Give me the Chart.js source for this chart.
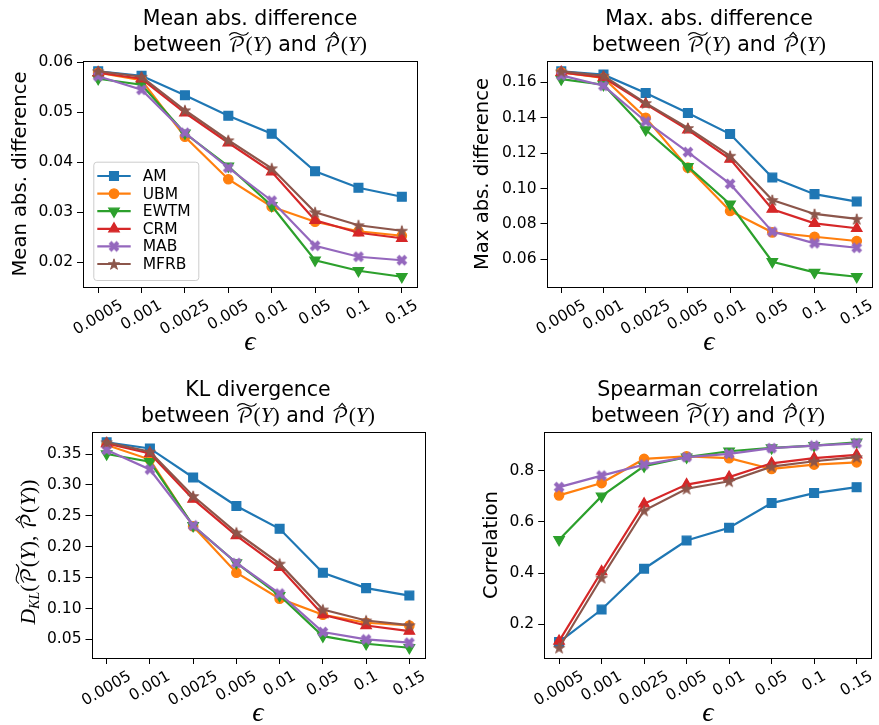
<!DOCTYPE html>
<html>
<head>
<meta charset="utf-8">
<script src="https://cdn.jsdelivr.net/npm/chart.js"></script>
<style>
  html, body { margin: 0; padding: 0; background: #fff; }
  #wrap { position: relative; width: 879px; height: 725px; overflow: hidden; }
  canvas { position: absolute; }
</style>
</head>
<body>
<div id="wrap">
  <canvas id="c0" width="440" height="362" style="left:0;top:0"></canvas>
  <canvas id="c1" width="439" height="362" style="left:440px;top:0"></canvas>
  <canvas id="c2" width="440" height="363" style="left:0;top:362px"></canvas>
  <canvas id="c3" width="439" height="363" style="left:440px;top:362px"></canvas>
</div>
<script>
/* ---------- data ---------- */
const epsLabels = ['0.0005', '0.001', '0.0025', '0.005', '0.01', '0.05', '0.1', '0.15'];
const methods = ['AM', 'UBM', 'EWTM', 'CRM', 'MAB', 'MFRB'];

// Mean abs. difference
const meanAM   = [0.0582, 0.0573, 0.0534, 0.0493, 0.0457, 0.0382, 0.0349, 0.0331];
const meanUBM  = [0.0579, 0.0564, 0.0451, 0.0366, 0.0311, 0.0281, 0.0262, 0.0253];
const meanEWTM = [0.0567, 0.0555, 0.0458, 0.0392, 0.0313, 0.0204, 0.0183, 0.0171];
const meanCRM  = [0.0579, 0.0567, 0.0499, 0.0439, 0.0381, 0.0284, 0.0259, 0.0248];
const meanMAB  = [0.0572, 0.0545, 0.0459, 0.0389, 0.0323, 0.0233, 0.0211, 0.0204];
const meanMFRB = [0.0582, 0.0571, 0.0504, 0.0444, 0.0388, 0.0300, 0.0274, 0.0263];

// Max abs. difference
const maxAM   = [0.1663, 0.1644, 0.1540, 0.1427, 0.1308, 0.1062, 0.0968, 0.0926];
const maxUBM  = [0.1657, 0.1625, 0.1400, 0.1118, 0.0873, 0.0752, 0.0727, 0.0703];
const maxEWTM = [0.1619, 0.1587, 0.1332, 0.1124, 0.0911, 0.0586, 0.0526, 0.0501];
const maxCRM  = [0.1657, 0.1628, 0.1478, 0.1332, 0.1166, 0.0883, 0.0803, 0.0775];
const maxMAB  = [0.1640, 0.1581, 0.1379, 0.1206, 0.1026, 0.0756, 0.0690, 0.0665];
const maxMFRB = [0.1662, 0.1638, 0.1483, 0.1342, 0.1185, 0.0935, 0.0856, 0.0828];

// KL divergence
const klAM   = [0.369, 0.359, 0.312, 0.266, 0.229, 0.158, 0.133, 0.121];
const klUBM  = [0.3645, 0.341, 0.233, 0.158, 0.116, 0.090, 0.077, 0.0726];
const klEWTM = [0.350, 0.3376, 0.234, 0.174, 0.121, 0.0553, 0.043, 0.0366];
const klCRM  = [0.367, 0.351, 0.277, 0.218, 0.1666, 0.090, 0.0726, 0.0634];
const klMAB  = [0.3565, 0.325, 0.2344, 0.1737, 0.1242, 0.062, 0.050, 0.0447];
const klMFRB = [0.369, 0.3537, 0.282, 0.223, 0.1726, 0.0984, 0.0806, 0.0731];

// Spearman correlation
const spAM   = [0.131, 0.258, 0.417, 0.527, 0.577, 0.673, 0.712, 0.735];
const spUBM  = [0.703, 0.751, 0.845, 0.855, 0.848, 0.806, 0.823, 0.832];
const spEWTM = [0.530, 0.700, 0.817, 0.852, 0.875, 0.888, 0.897, 0.910];
const spCRM  = [0.135, 0.406, 0.670, 0.745, 0.774, 0.828, 0.848, 0.861];
const spMAB  = [0.735, 0.780, 0.823, 0.852, 0.865, 0.887, 0.897, 0.906];
const spMFRB = [0.109, 0.382, 0.644, 0.729, 0.758, 0.815, 0.836, 0.852];

// y tick values
const meanTicks = [0.02, 0.03, 0.04, 0.05, 0.06];
const maxTicks  = [0.06, 0.08, 0.10, 0.12, 0.14, 0.16];
const klTicks   = [0.05, 0.10, 0.15, 0.20, 0.25, 0.30, 0.35];
const spTicks   = [0.2, 0.4, 0.6, 0.8];

/* ---------- styles ---------- */
const SANS = '"DejaVu Sans", sans-serif';
const fSans = s => `${s}px ${SANS}`;
const fCal = s => `${s}px "DejaVu Math TeX Gyre", "DejaVu Serif", serif`;
const fIt = s => `italic ${s}px "Liberation Serif", "DejaVu Serif", serif`;
const fRm = s => `${s}px "Liberation Serif", "DejaVu Serif", serif`;
const TITLE_SIZE = 20.5, LABEL_SIZE = 19.6, TICK_SIZE = 15.5;

function starImg(color) {
  const c = document.createElement('canvas');
  c.width = c.height = 16;
  const g = c.getContext('2d');
  g.translate(8, 8.6);
  g.beginPath();
  for (let k = 0; k < 10; k++) {
    const r = k % 2 ? 2.2 : 5.8;
    const ang = -Math.PI / 2 + k * Math.PI / 5;
    g.lineTo(r * Math.cos(ang), r * Math.sin(ang));
  }
  g.closePath();
  g.fillStyle = color; g.strokeStyle = color; g.lineWidth = 1;
  g.fill(); g.stroke();
  return c;
}
function xImg(color) {
  const c = document.createElement('canvas');
  c.width = c.height = 16;
  const g = c.getContext('2d');
  g.translate(8, 8);
  g.strokeStyle = color; g.lineWidth = 4; g.lineCap = 'butt';
  g.beginPath();
  g.moveTo(-4, -4); g.lineTo(4, 4);
  g.moveTo(4, -4); g.lineTo(-4, 4);
  g.stroke();
  return c;
}

const colors = ['#1f77b4', '#ff7f0e', '#2ca02c', '#d62728', '#9467bd', '#8c564b'];
const marks = [
  { style: 'rect', radius: 6.2, rot: 0 },
  { style: 'circle', radius: 4.7, rot: 0 },
  { style: 'triangle', radius: 6, rot: 180 },
  { style: 'triangle', radius: 6, rot: 0 },
  { style: xImg(colors[4]), radius: 5, rot: 0 },
  { style: starImg(colors[5]), radius: 5, rot: 0 }
];

/* ---------- text helpers ---------- */
function richWidth(ctx, pieces) {
  let w = 0;
  pieces.forEach(p => { ctx.font = p.f; p.w = ctx.measureText(p.t).width; w += p.w; });
  return w;
}
// draws pieces on an alphabetic baseline y, centred on cx
function drawRich(ctx, pieces, cx, y) {
  const total = richWidth(ctx, pieces);
  let x = cx - total / 2;
  ctx.textAlign = 'left';
  ctx.textBaseline = 'alphabetic';
  pieces.forEach(p => {
    ctx.font = p.f;
    ctx.fillText(p.t, x, y + (p.dy || 0));
    if (p.deco === 'tilde') {
      ctx.save();
      ctx.lineWidth = 1.1;
      const y0 = y - 17.5, x0 = x + 1, x1 = x + p.w + 3;
      const m = (x0 + x1) / 2;
      ctx.beginPath();
      ctx.moveTo(x0, y0 + 1.5);
      ctx.bezierCurveTo(x0 + 3, y0 - 3, m - 2, y0 - 1, m, y0);
      ctx.bezierCurveTo(m + 2, y0 + 1, x1 - 3, y0 + 3, x1, y0 - 1.5);
      ctx.stroke();
      ctx.restore();
    } else if (p.deco === 'hat') {
      ctx.save();
      ctx.lineWidth = 1.1;
      const m = x + p.w * 0.62, y0 = y - 18;
      ctx.beginPath();
      ctx.moveTo(m - 3.5, y0 + 3); ctx.lineTo(m, y0 - 1); ctx.lineTo(m + 3.5, y0 + 3);
      ctx.stroke();
      ctx.restore();
    }
    x += p.w;
  });
}
const PY = s => [
  { t: '(', f: fRm(s) }, { t: 'Y', f: fIt(s) }, { t: ')', f: fRm(s) }
];
function betweenLine() {
  return [
    { t: 'between ', f: fSans(TITLE_SIZE) },
    { t: '𝒫', f: fCal(20.5), deco: 'tilde' }, ...PY(21.5),
    { t: ' and ', f: fSans(TITLE_SIZE) },
    { t: '𝒫', f: fCal(20.5), deco: 'hat' }, ...PY(21.5)
  ];
}
function klLabel() {
  return [
    { t: 'D', f: fIt(21.5) }, { t: 'KL', f: fIt(14), dy: 4 },
    { t: '(', f: fRm(21.5) }, { t: '𝒫', f: fCal(20.5), deco: 'tilde' }, ...PY(21.5),
    { t: ', ', f: fRm(21.5) },
    { t: '𝒫', f: fCal(20.5), deco: 'hat' }, ...PY(21.5), { t: ')', f: fRm(21.5) }
  ];
}

/* ---------- panel builder ---------- */
const YW = 60, XH = 6;

function decorPlugin(cfg) {
  return {
    id: 'decor',
    afterDraw(chart) {
      const { ctx, chartArea: a } = chart;
      const xs = chart.scales.x;
      const cx = (a.left + a.right) / 2;
      ctx.save();
      ctx.fillStyle = '#000';
      ctx.strokeStyle = '#000';

      // frame
      ctx.lineWidth = 1;
      ctx.strokeRect(Math.round(a.left) + 0.5, Math.round(a.top) + 0.5,
        Math.round(a.right - a.left), Math.round(a.bottom - a.top));

      // title
      ctx.textBaseline = 'alphabetic';
      ctx.textAlign = 'center';
      ctx.font = fSans(TITLE_SIZE);
      ctx.fillText(cfg.title, cx, a.top - 36.3);
      drawRich(ctx, betweenLine(), cx, a.top - 9.6);

      // y label
      ctx.save();
      ctx.translate(a.left - cfg.ylabelOffset, (a.top + a.bottom) / 2);
      ctx.rotate(-Math.PI / 2);
      if (cfg.ylabel === 'kl') {
        drawRich(ctx, klLabel(), -7, 7);
      } else {
        ctx.textBaseline = 'middle';
        ctx.textAlign = 'center';
        ctx.font = fSans(LABEL_SIZE);
        ctx.fillText(cfg.ylabel, 0, 0);
      }
      ctx.restore();

      // x tick labels, rotated 30 deg, centred under the tick
      ctx.font = fSans(TICK_SIZE);
      ctx.textAlign = 'center';
      ctx.textBaseline = 'middle';
      const ang = Math.PI / 6, h = TICK_SIZE;
      epsLabels.forEach((lab, i) => {
        const px = xs.getPixelForValue(i);
        const w = ctx.measureText(lab).width;
        const bh = w * Math.sin(ang) + h * Math.cos(ang);
        ctx.save();
        ctx.translate(px, a.bottom + 10.5 + bh / 2);
        ctx.rotate(-ang);
        ctx.fillText(lab, 0, 0);
        ctx.restore();
      });

      // x axis label
      ctx.font = fIt(28);
      ctx.textBaseline = 'alphabetic';
      ctx.fillText('ϵ', cx, a.bottom + 62.5);

      // legend
      if (cfg.legend) {
        const bx = a.left + 10.3, by = a.bottom - 7 - 118.3, bw = 105, bhh = 118.3;
        ctx.save();
        ctx.fillStyle = 'rgba(255,255,255,0.8)';
        ctx.strokeStyle = '#cccccc';
        ctx.lineWidth = 1;
        ctx.beginPath();
        ctx.roundRect(bx + 0.5, by + 0.5, bw, bhh, 3);
        ctx.fill(); ctx.stroke();
        ctx.restore();
        chart.data.datasets.forEach((ds, i) => {
          const yy = by + 14.3 + 17.6 * i;
          ctx.strokeStyle = ds.borderColor;
          ctx.fillStyle = ds.borderColor;
          ctx.lineWidth = ds.borderWidth;
          ctx.beginPath();
          ctx.moveTo(bx + 4, yy); ctx.lineTo(bx + 37.4, yy);
          ctx.stroke();
          ctx.lineWidth = ds.pointBorderWidth;
          Chart.helpers.drawPoint(ctx, {
            pointStyle: ds.pointStyle, radius: ds.pointRadius,
            rotation: ds.pointRotation, borderWidth: ds.pointBorderWidth
          }, bx + 20.7, yy);
          ctx.fillStyle = '#000';
          ctx.font = fSans(TICK_SIZE);
          ctx.textAlign = 'left';
          ctx.textBaseline = 'middle';
          ctx.fillText(ds.label, bx + 49.4, yy + 1);
        });
      }
      ctx.restore();
    }
  };
}

function makePanel(id, cfg) {
  const canvas = document.getElementById(id);
  const W = canvas.width, H = canvas.height;
  const all = cfg.series.flat();
  const lo = Math.min(...all), hi = Math.max(...all), span = hi - lo;
  const datasets = cfg.series.map((vals, i) => ({
    label: methods[i],
    data: vals.map((v, k) => ({ x: k, y: v })),
    borderColor: colors[i],
    backgroundColor: colors[i],
    borderWidth: 2.2,
    pointStyle: marks[i].style,
    pointRadius: marks[i].radius,
    pointRotation: marks[i].rot,
    pointBorderWidth: 1.3,
    pointBorderColor: colors[i],
    pointBackgroundColor: colors[i],
    tension: 0,
    order: cfg.series.length - i
  }));
  return new Chart(canvas.getContext('2d'), {
    type: 'line',
    data: { datasets },
    options: {
      responsive: false,
      animation: false,
      layout: {
        padding: {
          left: cfg.area.l - YW,
          top: cfg.area.t,
          right: W - cfg.area.r,
          bottom: H - cfg.area.b - XH
        }
      },
      plugins: { legend: { display: false }, tooltip: { enabled: false }, title: { display: false } },
      scales: {
        x: {
          type: 'linear',
          min: -0.35,
          max: 7.35,
          afterBuildTicks: s => { s.ticks = epsLabels.map((_, k) => ({ value: k })); },
          afterFit: s => { s.height = XH; },
          ticks: { display: false },
          border: { display: false },
          grid: { drawOnChartArea: false, drawTicks: true, tickLength: 6, color: '#000', lineWidth: 1 }
        },
        y: {
          type: 'linear',
          min: lo - 0.05 * span,
          max: hi + 0.05 * span,
          afterBuildTicks: s => { s.ticks = cfg.ticks.map(v => ({ value: v })); },
          afterFit: s => { s.width = YW; },
          ticks: {
            color: '#000',
            padding: 4,
            font: { family: 'DejaVu Sans', size: TICK_SIZE },
            callback: v => v.toFixed(cfg.digits)
          },
          border: { display: false },
          grid: { drawOnChartArea: false, drawTicks: true, tickLength: 6, color: '#000', lineWidth: 1 }
        }
      }
    },
    plugins: [decorPlugin(cfg)]
  });
}

makePanel('c0', {
  title: 'Mean abs. difference',
  series: [meanAM, meanUBM, meanEWTM, meanCRM, meanMAB, meanMFRB],
  ticks: meanTicks, digits: 2,
  ylabel: 'Mean abs. difference', ylabelOffset: 62,
  area: { l: 83, t: 61, r: 417, b: 287 },
  legend: true
});
makePanel('c1', {
  title: 'Max. abs. difference',
  series: [maxAM, maxUBM, maxEWTM, maxCRM, maxMAB, maxMFRB],
  ticks: maxTicks, digits: 2,
  ylabel: 'Max abs. difference', ylabelOffset: 63.5,
  area: { l: 106.5, t: 61, r: 437.5, b: 287 }
});
makePanel('c2', {
  title: 'KL divergence',
  series: [klAM, klUBM, klEWTM, klCRM, klMAB, klMFRB],
  ticks: klTicks, digits: 2,
  ylabel: 'kl', ylabelOffset: 63.5,
  area: { l: 91.5, t: 70, r: 424.5, b: 296 }
});
makePanel('c3', {
  title: 'Spearman correlation',
  series: [spAM, spUBM, spEWTM, spCRM, spMAB, spMFRB],
  ticks: spTicks, digits: 1,
  ylabel: 'Correlation', ylabelOffset: 52.5,
  area: { l: 104.2, t: 70, r: 436.8, b: 296 }
});
</script>
</body>
</html>
